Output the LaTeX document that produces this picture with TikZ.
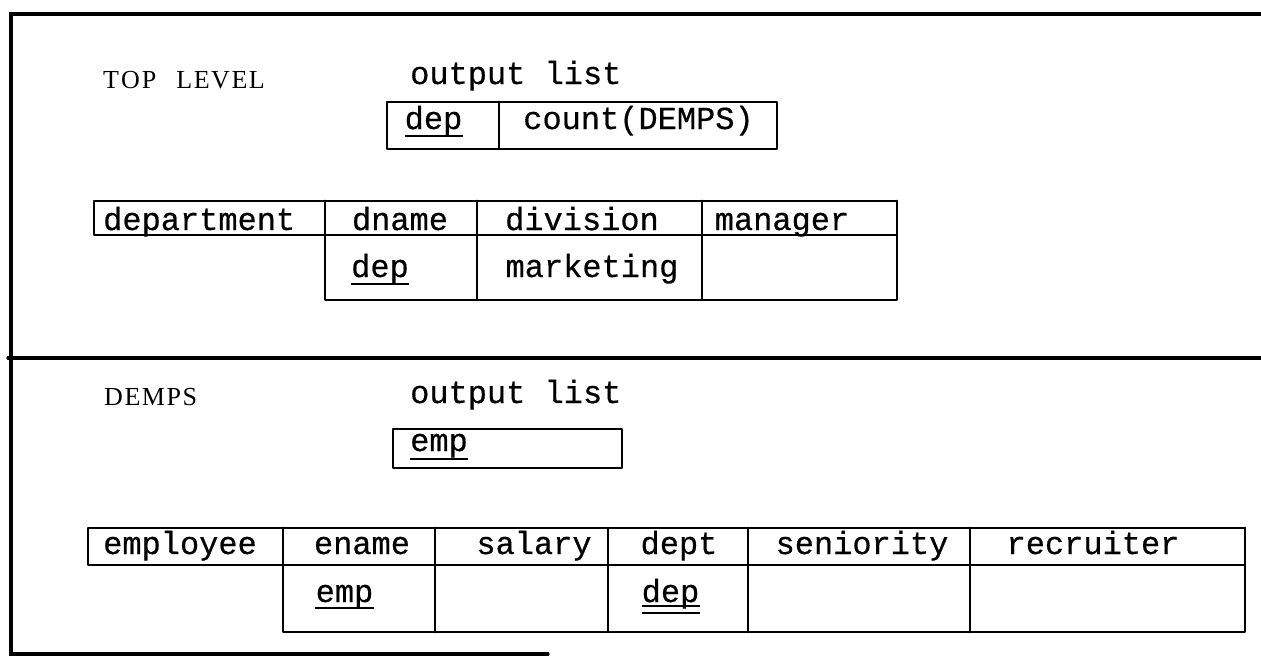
\documentclass[tikz,border=0pt]{standalone}
\usepackage{fontspec}
\newfontfamily\typefont[FakeBold=0.5]{Liberation Mono}
\newfontfamily\capfont[LetterSpace=6]{Liberation Serif}
\tikzset{
  tw/.style={font=\typefont\fontsize{32}{36}\selectfont, inner sep=0pt, anchor=base},
  twl/.style={tw, anchor=base west},
  caplbl/.style={font=\capfont\fontsize{26}{30}\selectfont, inner sep=0pt, anchor=base west},
  rule/.style={line width=2.8pt, line cap=round, line join=round},
  framel/.style={line width=3.2pt, line cap=round},
  ul/.style={line width=2.6pt}
}
\begin{document}
\begin{tikzpicture}[x=1pt,y=-1pt]
\useasboundingbox (0,0) rectangle (1261,656);
% frame
\draw[framel] (1261,14) -- (11,14) -- (11,654) -- (548,654);
\draw[framel] (8,358) -- (1261,358);

% ---------- TOP LEVEL ----------
\node[caplbl] (toplevel) at (103,88) {T\hspace{2pt}O\hspace{2pt}P\hspace{20pt}LEVEL};
\node[twl] (out1) at (410,84) {output list};
\draw[rule] (387,102) rectangle (777,149);
\draw[rule] (499,102) -- (499,149);
\node[tw] (dep1) at (433.5,129) {dep};
\node[tw] (cnt) at (638.5,129) {count(DEMPS)};
\draw[ul] ([yshift=-7pt]dep1.base west) -- ([yshift=-7pt]dep1.base east);

% department table
\draw[rule] (94,201) rectangle (897,235);
\draw[rule] (325,201) -- (325,300) -- (897,300) -- (897,201);
\draw[rule] (477,201) -- (477,300);
\draw[rule] (702,201) -- (702,300);
\node[twl] (dept) at (103,230) {department};
\node[tw] (dname) at (400,230) {dname};
\node[tw] (division) at (582,230) {division};
\node[tw] (manager) at (782,230) {manager};
\node[tw] (dep2) at (380,277) {dep};
\node[tw] (mkt) at (592,277) {marketing};
\draw[ul] ([yshift=-7pt]dep2.base west) -- ([yshift=-7pt]dep2.base east);

% ---------- DEMPS ----------
\node[caplbl] (demps) at (104,405) {DEMPS};
\node[twl] (out2) at (410,403) {output list};
\draw[rule] (393,429) rectangle (622,468);
\node[twl] (emp1) at (410,451) {emp};
\draw[ul] ([yshift=-8pt]emp1.base west) -- ([yshift=-8pt]emp1.base east);

% employee table
\draw[rule] (88,528) rectangle (1245,565);
\draw[rule] (283,528) -- (283,632) -- (1245,632) -- (1245,528);
\foreach \xx in {435,608,748,970} { \draw[rule] (\xx,528) -- (\xx,632); }
\node[tw] (employee) at (180,554) {employee};
\node[tw] (ename) at (362,554) {ename};
\node[tw] (salary) at (534,554) {salary};
\node[tw] (deptcol) at (679,554) {dept};
\node[tw] (senior) at (862,554) {seniority};
\node[tw] (recr) at (1093,554) {recruiter};
\node[tw] (emp2) at (344.5,602) {emp};
\node[tw] (dep3) at (670.5,602) {dep};
\draw[ul] ([yshift=-6pt]emp2.base west) -- ([yshift=-6pt]emp2.base east);
\draw[ul] ([yshift=-4pt]dep3.base west) -- ([yshift=-4pt]dep3.base east);
\draw[ul] ([yshift=-11pt]dep3.base west) -- ([yshift=-11pt]dep3.base east);
\end{tikzpicture}
\end{document}
